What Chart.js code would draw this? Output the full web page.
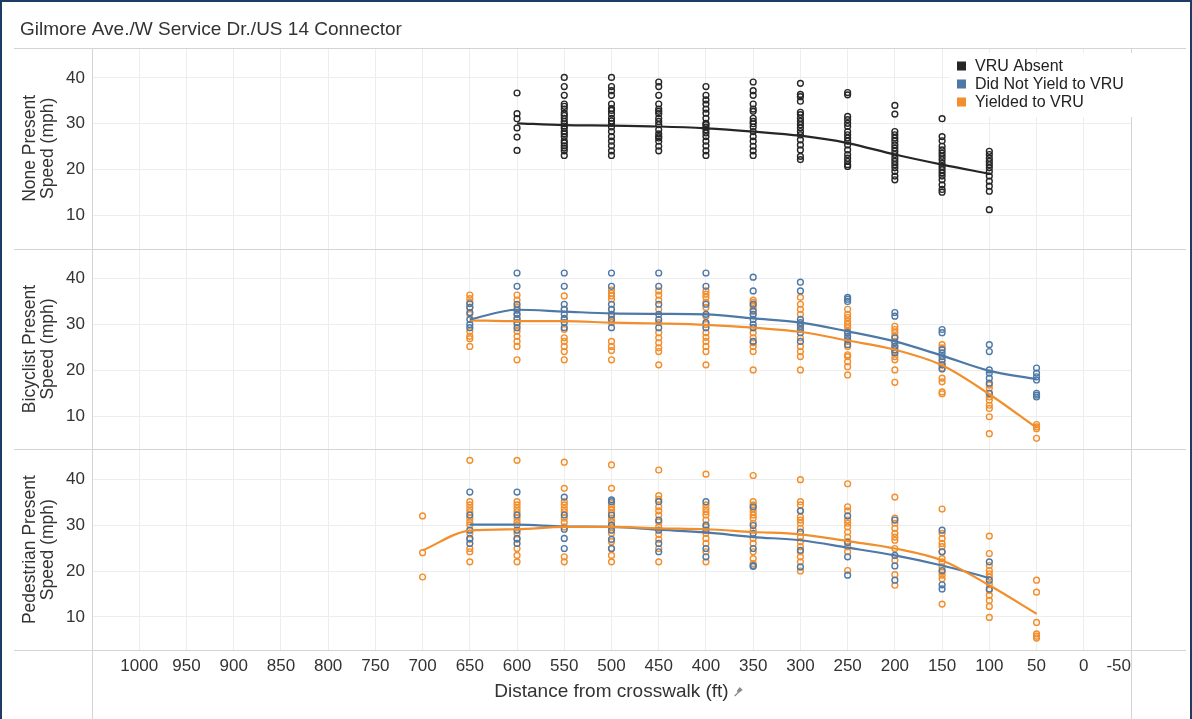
<!DOCTYPE html>
<html>
<head>
<meta charset="utf-8">
<script src="https://cdn.jsdelivr.net/npm/chart.js@4.4.1/dist/chart.umd.min.js"></script>
<style>
  html, body { margin: 0; padding: 0; background: #fff; }
  #wrap { position: relative; width: 1192px; height: 719px; }
  #frame { position: absolute; left: 0; top: 0; right: 0; bottom: 0; border: 2px solid #1d3b63; border-bottom: none; pointer-events: none; }
</style>
</head>
<body>
<div id="wrap">
  <canvas id="speedChart"></canvas>
  <div id="frame"></div>
</div>
<script>
// x axis (distance from crosswalk, ft), ascending; drawn reversed
const xTicks = [-50, 0, 50, 100, 150, 200, 250, 300, 350, 400, 450, 500, 550, 600, 650, 700, 750, 800, 850, 900, 950, 1000];
const xMin = -50;
const xMax = 1050;
const yTicks = [10, 20, 30, 40];

// None present: VRU absent
const noneDist = [600, 550, 500, 450, 400, 350, 300, 250, 200, 150, 100];
const noneSpeeds = [
    [36.7, 32.2, 31.1, 29.1, 27.1, 24.2],
    [40.1, 38.1, 36.2, 34.3, 33.8, 33.2, 32.3, 31.8, 31.2, 30.5, 30.0, 29.5, 29.0, 28.3, 27.8, 27.2, 26.3, 25.8, 25.2, 24.7, 24.1, 23.1],
    [40.1, 38.1, 37.2, 36.2, 34.3, 33.3, 32.9, 32.1, 31.2, 30.6, 30.1, 29.3, 28.3, 27.2, 26.2, 25.2, 24.1, 23.1],
    [39.1, 38.1, 36.2, 34.3, 33.2, 32.7, 32.2, 31.2, 30.5, 29.8, 28.7, 27.8, 27.2, 26.9, 26.2, 25.1, 24.1],
    [38.1, 36.2, 35.2, 34.3, 33.2, 32.3, 31.2, 30.1, 29.8, 29.3, 28.7, 28.0, 27.2, 26.2, 25.2, 24.1, 23.1],
    [39.1, 37.2, 36.2, 34.3, 33.2, 32.7, 31.2, 30.5, 30.0, 29.3, 28.3, 27.2, 26.2, 25.1, 24.1, 23.1],
    [38.8, 36.4, 35.9, 34.9, 32.5, 32.0, 31.2, 30.5, 29.8, 29.1, 28.3, 27.6, 26.5, 25.4, 24.3, 22.9, 22.2],
    [36.8, 36.3, 31.6, 30.9, 30.1, 29.4, 28.3, 27.6, 26.9, 26.2, 25.4, 24.3, 23.3, 22.5, 21.8, 21.1, 20.7],
    [34.0, 32.1, 28.3, 27.6, 26.9, 26.2, 25.4, 24.7, 24.0, 23.3, 22.5, 21.8, 21.1, 20.4, 19.6, 18.6, 17.8],
    [31.1, 27.2, 26.3, 25.1, 24.3, 23.6, 22.9, 22.2, 21.4, 20.7, 20.0, 19.3, 18.6, 17.8, 16.7, 15.7, 15.1],
    [24.0, 23.3, 22.5, 21.8, 21.1, 20.4, 19.6, 18.6, 17.5, 16.4, 15.3, 11.3]
];
const noneTrend = [30.1, 29.7, 29.6, 29.4, 29.0, 28.3, 27.4, 25.8, 23.3, 21.1, 19.1];

// Bicyclist present
const bikeDist = [650, 600, 550, 500, 450, 400, 350, 300, 250, 200, 150, 100, 50];
const bikeNoYield = [
    [34.5, 33.7, 32.6, 31.1, 30.0, 29.3],
    [41.2, 38.3, 34.4, 33.1, 32.2, 31.3, 30.4, 29.3],
    [41.2, 38.3, 34.4, 33.3, 32.2, 31.3, 30.4, 29.3],
    [41.2, 38.3, 34.4, 33.3, 32.2, 31.1, 29.3],
    [41.2, 38.3, 34.4, 32.2, 31.1, 29.3],
    [41.2, 38.3, 34.4, 32.2, 30.4, 29.3],
    [40.3, 37.3, 34.4, 32.9, 32.2, 31.1, 30.0, 29.3, 26.3],
    [39.2, 37.3, 31.1, 30.4, 29.6, 28.9, 28.2, 26.3],
    [35.9, 35.5, 35.0, 28.2, 27.4, 26.7, 25.6],
    [32.6, 31.8, 27.1, 26.0, 25.2, 24.5, 23.8],
    [28.9, 28.2, 24.5, 23.8, 23.0, 22.3, 21.2, 20.3],
    [25.6, 24.1, 20.1, 19.4, 18.3, 17.2, 15.0],
    [20.5, 19.4, 18.6, 17.9, 15.0, 14.6, 14.2]
];
const bikeNoYieldTrend = [31.1, 33.2, 32.8, 32.4, 32.3, 32.2, 31.3, 30.4, 28.5, 26.3, 23.2, 19.9, 18.1];
const bikeYield = [
    [36.4, 35.6, 34.8, 33.7, 32.2, 28.5, 27.4, 26.9, 25.2],
    [36.4, 35.3, 33.7, 32.2, 31.1, 30.0, 28.5, 27.4, 26.3, 25.2, 22.3],
    [36.2, 33.3, 31.1, 28.9, 27.1, 26.3, 25.2, 24.1, 22.3],
    [37.5, 36.8, 36.2, 35.5, 33.3, 31.8, 30.4, 26.3, 25.2, 24.3, 22.3],
    [37.3, 36.4, 35.3, 33.3, 30.4, 28.2, 27.1, 26.0, 24.9, 24.1, 21.2],
    [37.3, 36.6, 35.9, 34.8, 33.7, 31.8, 30.0, 28.2, 27.2, 26.3, 25.2, 24.1, 21.2],
    [35.3, 34.8, 34.0, 33.3, 32.2, 29.3, 28.2, 27.1, 26.0, 25.2, 24.1, 20.1],
    [35.9, 34.4, 33.3, 32.2, 30.0, 27.1, 25.2, 24.1, 23.0, 20.1],
    [33.3, 32.2, 31.5, 30.7, 30.0, 29.3, 28.5, 26.3, 25.2, 23.4, 23.0, 21.9, 20.8, 19.0],
    [29.6, 28.9, 28.2, 27.4, 26.3, 25.2, 24.1, 23.0, 22.3, 20.1, 17.4],
    [25.6, 24.9, 21.9, 21.2, 20.5, 18.3, 17.5, 15.3, 14.9],
    [16.8, 16.1, 15.0, 14.2, 13.5, 12.4, 11.7, 9.9, 6.2],
    [8.2, 7.7, 7.3, 5.2]
];
const bikeYieldTrend = [30.9, 30.7, 30.7, 30.4, 30.2, 29.9, 29.3, 28.4, 26.5, 24.5, 21.1, 14.8, 7.5];

// Pedestrian present
const pedNoYieldDist = [650, 600, 550, 500, 450, 400, 350, 300, 250, 200, 150, 100];
const pedNoYield = [
    [37.2, 32.2, 28.9, 27.1, 26.0],
    [37.2, 32.2, 28.9, 27.1, 26.0],
    [36.1, 32.2, 29.1, 27.1, 24.9],
    [35.5, 35.1, 32.2, 30.0, 28.9, 26.9, 24.9],
    [35.1, 31.1, 28.9, 26.0, 24.2],
    [35.1, 30.0, 28.9, 24.9, 23.1],
    [34.0, 29.9, 28.2, 24.9, 21.2, 21.0],
    [33.1, 28.5, 24.5, 20.9],
    [32.0, 26.2, 23.1, 19.1],
    [31.1, 23.4, 21.1, 18.0],
    [28.9, 24.2, 20.1, 17.0, 16.1],
    [22.0, 18.0, 16.1]
];
const pedNoYieldTrend = [30.1, 30.1, 29.7, 29.6, 29.0, 28.4, 27.4, 26.7, 25.1, 23.4, 21.2, 18.5];
const pedYieldDist = [700, 650, 600, 550, 500, 450, 400, 350, 300, 250, 200, 150, 100, 50];
const pedYield = [
    [32.0, 24.0, 18.7],
    [44.1, 35.1, 34.4, 33.6, 32.9, 31.5, 30.7, 30.0, 28.2, 26.9, 24.9, 24.2, 22.0],
    [44.1, 35.1, 34.4, 33.6, 32.9, 31.5, 30.7, 30.0, 28.2, 26.9, 24.9, 23.4, 22.0],
    [43.7, 38.0, 35.1, 34.4, 33.6, 32.9, 31.5, 30.6, 29.6, 23.1, 22.0],
    [43.1, 38.0, 34.7, 34.0, 33.3, 32.6, 31.5, 30.7, 29.6, 28.2, 26.4, 24.9, 23.4, 22.0],
    [42.0, 36.4, 35.6, 34.0, 33.1, 32.2, 30.7, 29.6, 28.0, 26.9, 24.9, 22.0],
    [41.1, 34.4, 33.6, 32.9, 32.2, 31.1, 29.6, 28.2, 27.1, 26.0, 24.2, 22.0],
    [40.8, 35.1, 34.4, 33.6, 32.9, 32.2, 31.5, 30.4, 28.9, 27.1, 26.0, 24.2, 22.7, 21.6],
    [39.9, 35.1, 34.4, 33.1, 31.8, 31.1, 30.4, 29.3, 27.4, 26.4, 25.3, 24.2, 23.1, 22.0, 20.0],
    [39.0, 34.0, 33.1, 31.1, 30.4, 29.6, 28.5, 27.4, 26.4, 25.3, 24.2, 20.1],
    [36.1, 31.5, 30.4, 29.3, 28.2, 27.4, 26.7, 24.9, 22.3, 19.2, 16.9],
    [33.5, 28.2, 27.1, 26.0, 25.3, 24.2, 22.7, 22.0, 20.9, 19.8, 19.1, 18.3, 12.8],
    [27.6, 23.8, 21.2, 20.1, 19.4, 18.7, 17.2, 15.8, 14.7, 13.6, 12.3, 9.9],
    [18.0, 15.4, 8.8, 6.3, 5.8, 5.4]
];
const pedYieldTrend = [24.5, 28.8, 29.1, 29.6, 29.6, 29.3, 29.1, 28.5, 28.0, 26.5, 24.9, 22.3, 16.9, 10.7];

const legendLabels = ["VRU Absent", "Did Not Yield to VRU", "Yielded to VRU"];

const BLACK = "#262626";
const BLUE = "#4e79a7";
const ORANGE = "#f28e2b";
const FONT = "'Liberation Sans', Arial, sans-serif";

function toPoints(dists, speeds) {
    const pts = [];
    dists.forEach((d, i) => speeds[i].forEach(v => pts.push({ x: d, y: v })));
    return pts;
}

function toLine(dists, trend) {
    return dists.map((d, i) => ({ x: d, y: trend[i] }));
}

function dots(data, color, axis, order) {
    return {
        data: data,
        yAxisID: axis,
        order: order,
        showLine: false,
        pointRadius: 2.9,
        pointBorderWidth: 1.4,
        pointBorderColor: color,
        pointBackgroundColor: "rgba(0,0,0,0)",
        pointHoverRadius: 3
    };
}

function trendLine(data, color, axis, order) {
    return {
        data: data,
        yAxisID: axis,
        order: order,
        showLine: true,
        borderColor: color,
        borderWidth: 2.2,
        pointRadius: 0,
        cubicInterpolationMode: "monotone",
        fill: false
    };
}

function panelAxis(titleLines, weight) {
    return {
        type: "linear",
        position: "left",
        stack: "panels",
        stackWeight: 1,
        weight: weight,
        min: 2.8,
        max: 46.5,
        afterBuildTicks: s => { s.ticks = yTicks.map(v => ({ value: v })); },
        afterFit: s => { s.width = 72; },
        grid: { color: "#ededed", drawTicks: false },
        border: { display: false },
        ticks: { color: "#333", font: { family: FONT, size: 17 }, padding: 7 },
        title: {
            display: true,
            text: titleLines,
            color: "#333",
            font: { family: FONT, size: 17.5, lineHeight: 1.05 },
            padding: { top: 1, bottom: 0 }
        }
    };
}

// separators between the three panels, axis lines, legend box and pin mark
const panelFrame = {
    id: "panelFrame",
    beforeDatasetsDraw(chart) {
        const { ctx, chartArea } = chart;
        ctx.save();
        ctx.strokeStyle = "#d4d4d4";
        ctx.lineWidth = 1;
        ctx.beginPath();
        ["yNone", "yBike", "yPed"].forEach(id => {
            const s = chart.scales[id];
            [s.top, s.bottom].forEach(y => {
                const yy = Math.round(y) + 0.5;
                ctx.moveTo(14, yy);
                ctx.lineTo(chart.width - 6, yy);
            });
        });
        [chartArea.left, chartArea.right].forEach(x => {
            const xx = Math.round(x) + 0.5;
            ctx.moveTo(xx, chartArea.top);
            ctx.lineTo(xx, chart.height);
        });
        ctx.stroke();
        ctx.restore();
    },
    afterDraw(chart) {
        const { ctx, chartArea } = chart;
        const colors = [BLACK, BLUE, ORANGE];
        const left = chartArea.right - 174;
        const top = chartArea.top + 5;
        ctx.save();
        ctx.fillStyle = "#fff";
        ctx.fillRect(left - 8, top, 190, 64);
        ctx.font = "16px " + FONT;
        ctx.textBaseline = "middle";
        legendLabels.forEach((label, i) => {
            const cy = top + 13 + i * 18;
            ctx.fillStyle = colors[i];
            ctx.fillRect(left, cy - 4.5, 9, 9);
            ctx.fillStyle = "#222";
            ctx.fillText(label, left + 18, cy + 1);
        });

        // small pin after the x axis title
        const xs = chart.scales.x;
        ctx.font = "19px " + FONT;
        const w = ctx.measureText(xs.options.title.text).width;
        const px = (chartArea.left + chartArea.right) / 2 + w / 2 + 9;
        const py = 692;
        ctx.strokeStyle = "#8a8a8a";
        ctx.fillStyle = "#8a8a8a";
        ctx.lineWidth = 1.2;
        ctx.beginPath();
        ctx.moveTo(px - 3, py + 4);
        ctx.lineTo(px + 1, py);
        ctx.stroke();
        ctx.beginPath();
        ctx.moveTo(px - 1, py - 1);
        ctx.lineTo(px + 2, py - 5);
        ctx.lineTo(px + 5, py - 2);
        ctx.lineTo(px + 1, py + 1);
        ctx.closePath();
        ctx.fill();
        ctx.restore();
    }
};

new Chart("speedChart", {
    type: "scatter",
    data: {
        datasets: [
            trendLine(toLine(noneDist, noneTrend), BLACK, "yNone", 0),
            dots(toPoints(noneDist, noneSpeeds), BLACK, "yNone", 1),

            trendLine(toLine(bikeDist, bikeNoYieldTrend), BLUE, "yBike", 0),
            trendLine(toLine(bikeDist, bikeYieldTrend), ORANGE, "yBike", 1),
            dots(toPoints(bikeDist, bikeNoYield), BLUE, "yBike", 2),
            dots(toPoints(bikeDist, bikeYield), ORANGE, "yBike", 3),

            trendLine(toLine(pedYieldDist, pedYieldTrend), ORANGE, "yPed", 0),
            trendLine(toLine(pedNoYieldDist, pedNoYieldTrend), BLUE, "yPed", 1),
            dots(toPoints(pedNoYieldDist, pedNoYield), BLUE, "yPed", 2),
            dots(toPoints(pedYieldDist, pedYield), ORANGE, "yPed", 3)
        ]
    },
    options: {
        responsive: true,
        maintainAspectRatio: false,
        animation: false,
        layout: { padding: { left: 20, right: 61, top: 0, bottom: 0 } },
        plugins: {
            legend: { display: false },
            tooltip: { enabled: false },
            title: {
                display: true,
                align: "start",
                text: "Gilmore Ave./W Service Dr./US 14 Connector",
                color: "#333",
                font: { family: FONT, size: 19, weight: "normal" },
                padding: { top: 18.6, bottom: 6.6 }
            }
        },
        scales: {
            x: {
                type: "linear",
                position: "bottom",
                min: xMin,
                max: xMax,
                reverse: true,
                afterBuildTicks: s => { s.ticks = xTicks.concat([xMax]).map(v => ({ value: v })); },
                afterFit: s => { s.height = 69; },
                grid: { color: "#ededed", drawTicks: false },
                border: { display: false },
                ticks: {
                    color: "#333",
                    font: { family: FONT, size: 17 },
                    padding: 6,
                    maxRotation: 0,
                    autoSkip: false,
                    align: "inner",
                    callback: v => (xTicks.includes(v) ? String(v) : "")
                },
                title: {
                    display: true,
                    text: "Distance from crosswalk (ft)",
                    color: "#333",
                    font: { family: FONT, size: 19 },
                    padding: { top: 0, bottom: 15.6 }
                }
            },
            yNone: panelAxis(["None Present", "Speed (mph)"], 3),
            yBike: panelAxis(["Bicyclist Present", "Speed (mph)"], 2),
            yPed: panelAxis(["Pedestrian Present", "Speed (mph)"], 1)
        }
    },
    plugins: [panelFrame]
});
</script>
</body>
</html>
